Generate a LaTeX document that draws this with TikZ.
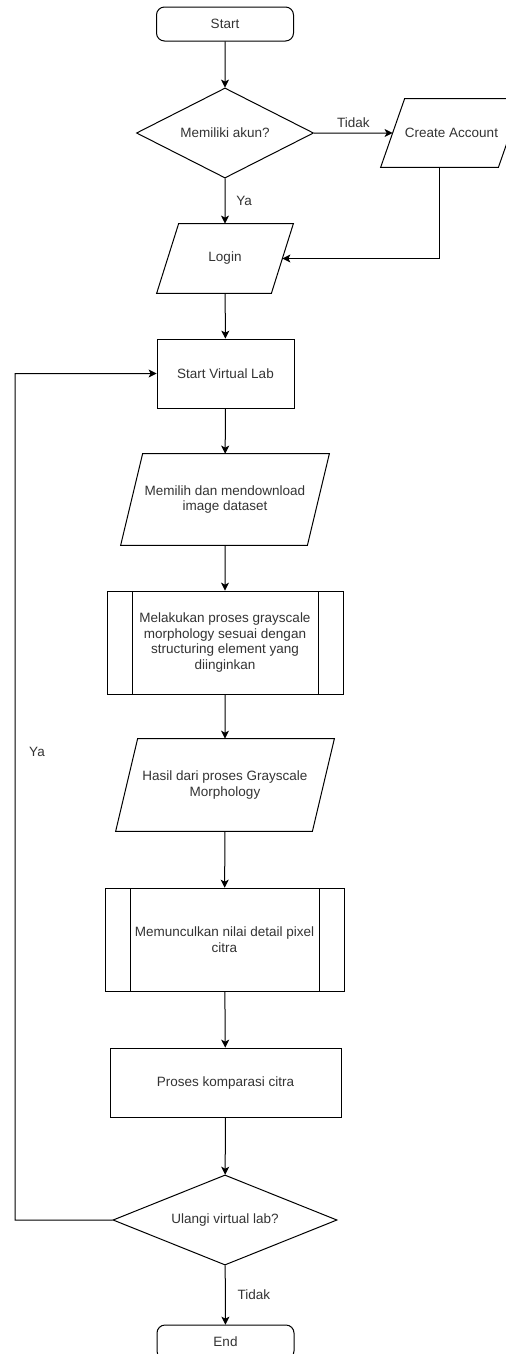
\documentclass[tikz,border=0pt]{standalone}
\usepackage{fontspec}
\setmainfont{Liberation Sans}
\usetikzlibrary{shapes.geometric, arrows.meta}
\begin{document}
\begin{tikzpicture}[x=1pt, y=-1pt, scale=0.75, line width=0.75pt, >={Stealth[length=6pt, width=6pt, inset=1.5pt]},
    every node/.style={scale=0.75, font=\fontsize{13.5}{15.7}\selectfont, text=black!80, align=center, inner sep=0pt},
    terminal/.style={draw=black, rounded corners=6pt, minimum width=137pt, minimum height=34pt},
    process/.style={draw=black, rectangle, minimum height=69pt},
    io/.style={rectangle, append after command={\pgfextra{
        \draw[black] ([xshift=#1]\tikzlastnode.north west) -- ([xshift=#1]\tikzlastnode.north east)
            -- ([xshift=-#1]\tikzlastnode.south east) -- ([xshift=-#1]\tikzlastnode.south west) -- cycle;}}},
    io/.default=11,
    decision/.style={draw=black, diamond, aspect=2.2, minimum height=90pt},
    subproc/.style={draw=black, rectangle, minimum height=103pt, path picture={
        \draw ([xshift=25pt]path picture bounding box.north west) -- ([xshift=25pt]path picture bounding box.south west);
        \draw ([xshift=-25pt]path picture bounding box.north east) -- ([xshift=-25pt]path picture bounding box.south east);}}]
    \useasboundingbox (0,0) rectangle (506,1354);

    \node[terminal] (start) at (225,24) {Start};
    \node[decision, minimum width=177pt] (akun) at (225,133) {Memiliki akun?};
    \node[io=12, minimum width=117pt, minimum height=68pt] (create) at (451.5,133) {Create Account};
    \node[io, minimum width=114pt, minimum height=69pt] (login) at (225,258.5) {Login};
    \node[process, minimum width=137pt] (lab) at (225.5,373.5) {Start Virtual Lab};
    \node[io, minimum width=186pt, minimum height=91pt] (pilih) at (225,499.5) {Memilih dan mendownload\\image dataset};
    \node[subproc, minimum width=236pt] (morfo) at (225,642.5) {Melakukan proses grayscale\\morphology sesuai dengan\\structuring element yang\\diinginkan};
    \node[io, minimum width=196pt, minimum height=92pt] (hasil) at (225,785) {Hasil dari proses Grayscale\\Morphology};
    \node[subproc, minimum width=239pt] (pixel) at (224.5,939.5) {Memunculkan nilai detail pixel\\citra};
    \node[process, minimum width=231pt] (banding) at (225.5,1082.5) {Proses komparasi citra};
    \node[decision, minimum width=224pt] (ulang) at (225,1220) {Ulangi virtual lab?};
    \node[terminal] (end) at (225.5,1342) {End};
    \coordinate (balik) at (15,1220);

    \draw[->] (start) -- (akun);
    \draw[->] (akun) -- node[above=5pt] (tidak1) {Tidak} (create);
    \draw[->] (akun) -- node[right=11pt] (ya1) {Ya} (login);
    \draw[->] ([xshift=-12]create.south) |- (login);
    \draw[->] (login) -- (lab);
    \draw[->] (lab) -- (pilih);
    \draw[->] (pilih) -- (morfo);
    \draw[->] (morfo) -- (hasil);
    \draw[->] (hasil) -- (pixel);
    \draw[->] (pixel) -- (banding);
    \draw[->] (banding) -- (ulang);
    \draw[->] (ulang) -- node[right=12pt] (tidak2) {Tidak} (end);
    \draw[->] (ulang) -- (balik) |- (lab);
    \node (ya2) at (37,752) {Ya};
\end{tikzpicture}
\end{document}
